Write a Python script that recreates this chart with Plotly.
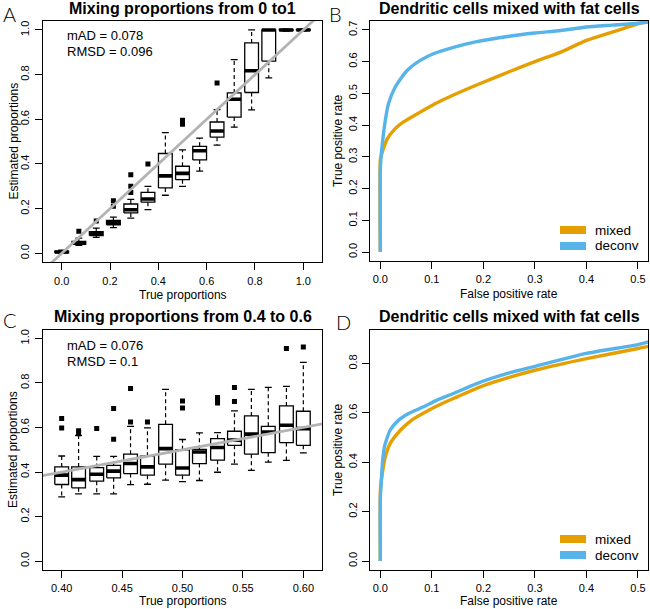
import plotly.graph_objects as go

W, H = 650, 609
FONT = "Liberation Sans, Arial, Helvetica, sans-serif"

# ---------------- Panel A: mixing proportions 0 to 1 ----------------
a_true = [0.000, 0.071, 0.143, 0.214, 0.286, 0.357, 0.429, 0.500,
          0.571, 0.643, 0.714, 0.786, 0.857, 0.929, 1.000]
a_q1 = [0.002, 0.040, 0.080, 0.128, 0.181, 0.229, 0.293, 0.330,
        0.418, 0.520, 0.610, 0.720, 0.860, 0.997, 0.998]
a_med = [0.006, 0.046, 0.088, 0.138, 0.195, 0.243, 0.347, 0.358,
         0.459, 0.548, 0.690, 0.817, 1.000, 1.000, 1.000]
a_q3 = [0.010, 0.053, 0.097, 0.148, 0.221, 0.273, 0.447, 0.390,
        0.479, 0.588, 0.718, 0.942, 1.000, 1.002, 1.002]
a_lo = [0.000, 0.036, 0.072, 0.115, 0.158, 0.196, 0.260, 0.300,
        0.368, 0.484, 0.565, 0.642, 0.785, 0.995, 0.996]
a_hi = [0.014, 0.068, 0.113, 0.162, 0.242, 0.300, 0.540, 0.463,
        0.516, 0.643, 0.867, 1.000, 1.000, 1.003, 1.004]
a_out_x = [0.071, 0.143, 0.214, 0.214, 0.286, 0.286, 0.286, 0.357, 0.500, 0.500, 0.643]
a_out_y = [0.099, 0.145, 0.211, 0.236, 0.272, 0.300, 0.352, 0.400, 0.578, 0.596, 0.762]
a_stats = ["mAD = 0.078", "RMSD = 0.096"]

# ---------------- Panel C: mixing proportions 0.4 to 0.6 ----------------
c_true = [0.400, 0.414, 0.429, 0.443, 0.457, 0.471, 0.486, 0.500,
          0.514, 0.529, 0.543, 0.557, 0.571, 0.586, 0.600]
c_q1 = [0.344, 0.329, 0.359, 0.374, 0.393, 0.386, 0.435, 0.386,
        0.438, 0.453, 0.520, 0.480, 0.487, 0.532, 0.520]
c_med = [0.386, 0.366, 0.390, 0.404, 0.438, 0.423, 0.505, 0.418,
         0.490, 0.510, 0.543, 0.570, 0.580, 0.610, 0.595]
c_q3 = [0.423, 0.423, 0.420, 0.430, 0.480, 0.471, 0.614, 0.500,
        0.502, 0.550, 0.583, 0.652, 0.605, 0.697, 0.673]
c_lo = [0.288, 0.302, 0.302, 0.302, 0.343, 0.345, 0.364, 0.357,
        0.362, 0.399, 0.435, 0.407, 0.444, 0.452, 0.486]
c_hi = [0.472, 0.564, 0.470, 0.470, 0.605, 0.598, 0.771, 0.546,
        0.576, 0.577, 0.675, 0.771, 0.780, 0.785, 0.892]
c_out_x = [0.400, 0.400, 0.414, 0.414, 0.429, 0.443, 0.443, 0.457, 0.457,
           0.471, 0.500, 0.500, 0.529, 0.529, 0.529, 0.543, 0.543, 0.586, 0.600]
c_out_y = [0.640, 0.598, 0.585, 0.575, 0.595, 0.685, 0.547, 0.775, 0.625,
           0.625, 0.719, 0.688, 0.735, 0.722, 0.710, 0.779, 0.717, 0.955, 0.961]
c_stats = ["mAD = 0.076", "RMSD = 0.1"]

# ---------------- Panel B: ROC (zoomed) ----------------
b_mixed_fpr = [0.0, 0.0, 0.002, 0.007, 0.014, 0.029, 0.045, 0.0775, 0.107,
               0.142, 0.194, 0.25, 0.30, 0.35, 0.40, 0.45, 0.50, 0.52]
b_mixed_tpr = [0.0, 0.29, 0.305, 0.330, 0.358, 0.389, 0.410, 0.441, 0.468,
               0.495, 0.531, 0.568, 0.600, 0.630, 0.667, 0.693, 0.719, 0.727]
b_deconv_fpr = [0.0, 0.0, 0.001, 0.002, 0.0097, 0.016, 0.029, 0.052, 0.0775,
                0.103, 0.142, 0.187, 0.25, 0.30, 0.35, 0.40, 0.45, 0.50, 0.52]
b_deconv_tpr = [0.0, 0.26, 0.29, 0.311, 0.415, 0.468, 0.520, 0.572, 0.604,
                0.625, 0.645, 0.663, 0.680, 0.690, 0.698, 0.709, 0.715, 0.721, 0.725]

# ---------------- Panel D: ROC ----------------
d_mixed_fpr = [0.0, 0.0, 0.001, 0.004, 0.0097, 0.019, 0.039, 0.061, 0.094,
               0.12, 0.149, 0.194, 0.25, 0.30, 0.40, 0.50, 0.52]
d_mixed_tpr = [0.0, 0.28, 0.31, 0.355, 0.422, 0.476, 0.530, 0.571, 0.611,
               0.638, 0.665, 0.706, 0.744, 0.773, 0.820, 0.861, 0.870]
d_deconv_fpr = [0.0, 0.0, 0.002, 0.004, 0.008, 0.019, 0.0355, 0.055, 0.084,
                0.11, 0.142, 0.187, 0.25, 0.30, 0.40, 0.50, 0.52]
d_deconv_tpr = [0.0, 0.25, 0.328, 0.395, 0.463, 0.530, 0.571, 0.598, 0.625,
                0.652, 0.679, 0.719, 0.762, 0.789, 0.841, 0.877, 0.888]

series_names = ["mixed", "deconv"]
ORANGE = "#E69F00"
BLUE = "#56B4E9"
GRAY = "#B3B3B3"

titles = ["Mixing proportions from 0 to1", "Dendritic cells mixed with fat cells",
          "Mixing proportions from 0.4 to 0.6", "Dendritic cells mixed with fat cells"]
letters = ["A", "B", "C", "D"]

# axis ranges (R style 4% extension)
A_XR = [-0.0786, 1.0786]
A_YR = [-0.04, 1.04]
C_XR = [0.3843, 0.6157]
C_YR = [-0.04, 1.04]
B_XR = [-0.02, 0.52]
B_YR = [-0.028, 0.728]
D_XR = [-0.02, 0.52]
D_YR = [-0.036, 0.936]


def px(x):
    return x / W


def py(y):
    return 1 - y / H


fig = go.Figure()


def add_boxes(pos, q1, med, q3, lo, hi, bw, ox, oy, xa, ya):
    half = bw / 2
    cap = bw / 4
    rx, ry, mx, my, wx, wy, cx, cy = [], [], [], [], [], [], [], []
    for p, a, m, b, l, h in zip(pos, q1, med, q3, lo, hi):
        rx += [p - half, p + half, p + half, p - half, p - half, None]
        ry += [a, a, b, b, a, None]
        mx += [p - half, p + half, None]
        my += [m, m, None]
        wx += [p, p, None, p, p, None]
        wy += [b, h, None, a, l, None]
        cx += [p - cap, p + cap, None, p - cap, p + cap, None]
        cy += [h, h, None, l, l, None]
    common = dict(xaxis=xa, yaxis=ya, mode="lines", showlegend=False, hoverinfo="skip")
    fig.add_trace(go.Scatter(x=wx, y=wy, line=dict(color="black", width=1.2, dash="4px,3px"), **common))
    fig.add_trace(go.Scatter(x=cx, y=cy, line=dict(color="black", width=1.3), **common))
    fig.add_trace(go.Scatter(x=rx, y=ry, line=dict(color="black", width=1.3), **common))
    fig.add_trace(go.Scatter(x=mx, y=my, line=dict(color="black", width=3.6), **common))
    fig.add_trace(go.Scatter(x=ox, y=oy, mode="markers", xaxis=xa, yaxis=ya, showlegend=False,
                             marker=dict(symbol="square", size=5, color="black"), hoverinfo="skip"))


add_boxes(a_true, a_q1, a_med, a_q3, a_lo, a_hi, 0.057, a_out_x, a_out_y, "x", "y")
fig.add_trace(go.Scatter(x=A_XR, y=A_XR, mode="lines", xaxis="x", yaxis="y", showlegend=False,
                         line=dict(color=GRAY, width=2.8)))
add_boxes(c_true, c_q1, c_med, c_q3, c_lo, c_hi, 0.0114, c_out_x, c_out_y, "x3", "y3")
fig.add_trace(go.Scatter(x=C_XR, y=C_XR, mode="lines", xaxis="x3", yaxis="y3", showlegend=False,
                         line=dict(color=GRAY, width=2.8)))

for xa, ya, mf, mt, df, dt in [("x2", "y2", b_mixed_fpr, b_mixed_tpr, b_deconv_fpr, b_deconv_tpr),
                               ("x4", "y4", d_mixed_fpr, d_mixed_tpr, d_deconv_fpr, d_deconv_tpr)]:
    fig.add_trace(go.Scatter(x=mf, y=mt, mode="lines", xaxis=xa, yaxis=ya, name=series_names[0],
                             showlegend=False,
                             line=dict(color=ORANGE, width=3.4, shape="spline", smoothing=0.6)))
    fig.add_trace(go.Scatter(x=df, y=dt, mode="lines", xaxis=xa, yaxis=ya, name=series_names[1],
                             showlegend=False,
                             line=dict(color=BLUE, width=3.4, shape="spline", smoothing=0.6)))

axis_common = dict(showline=True, mirror=True, linecolor="black", linewidth=1, ticks="outside",
                   ticklen=7, tickwidth=1, tickcolor="black", showgrid=False, zeroline=False,
                   tickfont=dict(family=FONT, size=11, color="black"))
xstyle = dict(ticklabelstandoff=1, **axis_common)
ystyle = dict(ticklabelstandoff=1, tickangle=-90, **axis_common)

dom = {
    "A": ([px(42.7), px(322.3)], [py(262.3), py(21)]),
    "B": ([px(370), px(648.3)], [py(261), py(21)]),
    "C": ([px(42.7), px(322.3)], [py(570), py(329.5)]),
    "D": ([px(370), px(648.3)], [py(570), py(330)]),
}

fig.update_layout(
    xaxis=dict(domain=dom["A"][0], range=A_XR, anchor="y", tickvals=[0, 0.2, 0.4, 0.6, 0.8, 1.0],
               tickformat=".1f", **xstyle),
    yaxis=dict(domain=dom["A"][1], range=A_YR, anchor="x", tickvals=[0, 0.2, 0.4, 0.6, 0.8, 1.0],
               tickformat=".1f", **ystyle),
    xaxis2=dict(domain=dom["B"][0], range=B_XR, anchor="y2", tickvals=[0, 0.1, 0.2, 0.3, 0.4, 0.5],
                tickformat=".1f", **xstyle),
    yaxis2=dict(domain=dom["B"][1], range=B_YR, anchor="x2",
                tickvals=[0, 0.1, 0.2, 0.3, 0.4, 0.5, 0.6, 0.7], tickformat=".1f", **ystyle),
    xaxis3=dict(domain=dom["C"][0], range=C_XR, anchor="y3", tickvals=[0.40, 0.45, 0.50, 0.55, 0.60],
                tickformat=".2f", **xstyle),
    yaxis3=dict(domain=dom["C"][1], range=C_YR, anchor="x3", tickvals=[0, 0.2, 0.4, 0.6, 0.8, 1.0],
                tickformat=".1f", **ystyle),
    xaxis4=dict(domain=dom["D"][0], range=D_XR, anchor="y4", tickvals=[0, 0.1, 0.2, 0.3, 0.4, 0.5],
                tickformat=".1f", **xstyle),
    yaxis4=dict(domain=dom["D"][1], range=D_YR, anchor="x4", tickvals=[0, 0.2, 0.4, 0.6, 0.8],
                tickformat=".1f", **ystyle),
    width=W, height=H, margin=dict(l=0, r=0, t=0, b=0),
    plot_bgcolor="white", paper_bgcolor="white", showlegend=False,
    font=dict(family=FONT, color="black"),
)

ann = []


def text(x, y, s, size=12, xanchor="center", yanchor="middle", angle=0, bold=False, family=FONT,
         weight=None):
    f = dict(family=family, size=size, color="black")
    if bold:
        f["weight"] = "bold"
    if weight is not None:
        f["weight"] = weight
    ann.append(dict(x=px(x), y=py(y), xref="paper", yref="paper", text=s, showarrow=False,
                    xanchor=xanchor, yanchor=yanchor, textangle=angle, font=f))


# titles
text(182.5, 8.5, titles[0], size=16, bold=True)
text(509, 8.5, titles[1], size=16, bold=True)
text(182.5, 316.5, titles[2], size=16, bold=True)
text(509, 316.5, titles[3], size=16, bold=True)
# panel letters
LF = "Lato, " + FONT
text(1, 0, letters[0], size=20, xanchor="left", yanchor="top", family=LF, weight=300)
text(327, 0, letters[1], size=20, xanchor="left", yanchor="top", family=LF, weight=300)
text(1, 306, letters[2], size=20, xanchor="left", yanchor="top", family=LF, weight=300)
text(334, 308, letters[3], size=20, xanchor="left", yanchor="top", family=LF, weight=300)
# axis titles
text(182.5, 295, "True proportions", size=12)
text(13, 141.5, "Estimated proportions", size=12, angle=-90)
text(509, 294, "False positive rate", size=12)
text(338, 141, "True positive rate", size=12, angle=-90)
text(182.5, 600.5, "True proportions", size=12)
text(13, 450, "Estimated proportions", size=12, angle=-90)
text(509, 600.5, "False positive rate", size=12)
text(338, 450, "True positive rate", size=12, angle=-90)
# stats
text(65, 35, a_stats[0], size=13, xanchor="left")
text(65, 51.5, a_stats[1], size=13, xanchor="left")
text(65, 345, c_stats[0], size=13, xanchor="left")
text(65, 361, c_stats[1], size=13, xanchor="left")

# manual legends (B and D)
shapes = []
for (ym, yd) in [(230, 246), (539, 555)]:
    for yy, col, name in [(ym, ORANGE, series_names[0]), (yd, BLUE, series_names[1])]:
        shapes.append(dict(type="line", xref="paper", yref="paper", x0=px(560), x1=px(586),
                           y0=py(yy), y1=py(yy), line=dict(color=col, width=8)))
        text(593, yy, name, size=13.5, xanchor="left")

fig.update_layout(annotations=ann, shapes=shapes)
fig.write_html("out.html", config={"displayModeBar": False},
               post_script="document.body.style.margin='0';document.body.style.padding='0';"
                           "document.body.style.overflow='hidden';")
